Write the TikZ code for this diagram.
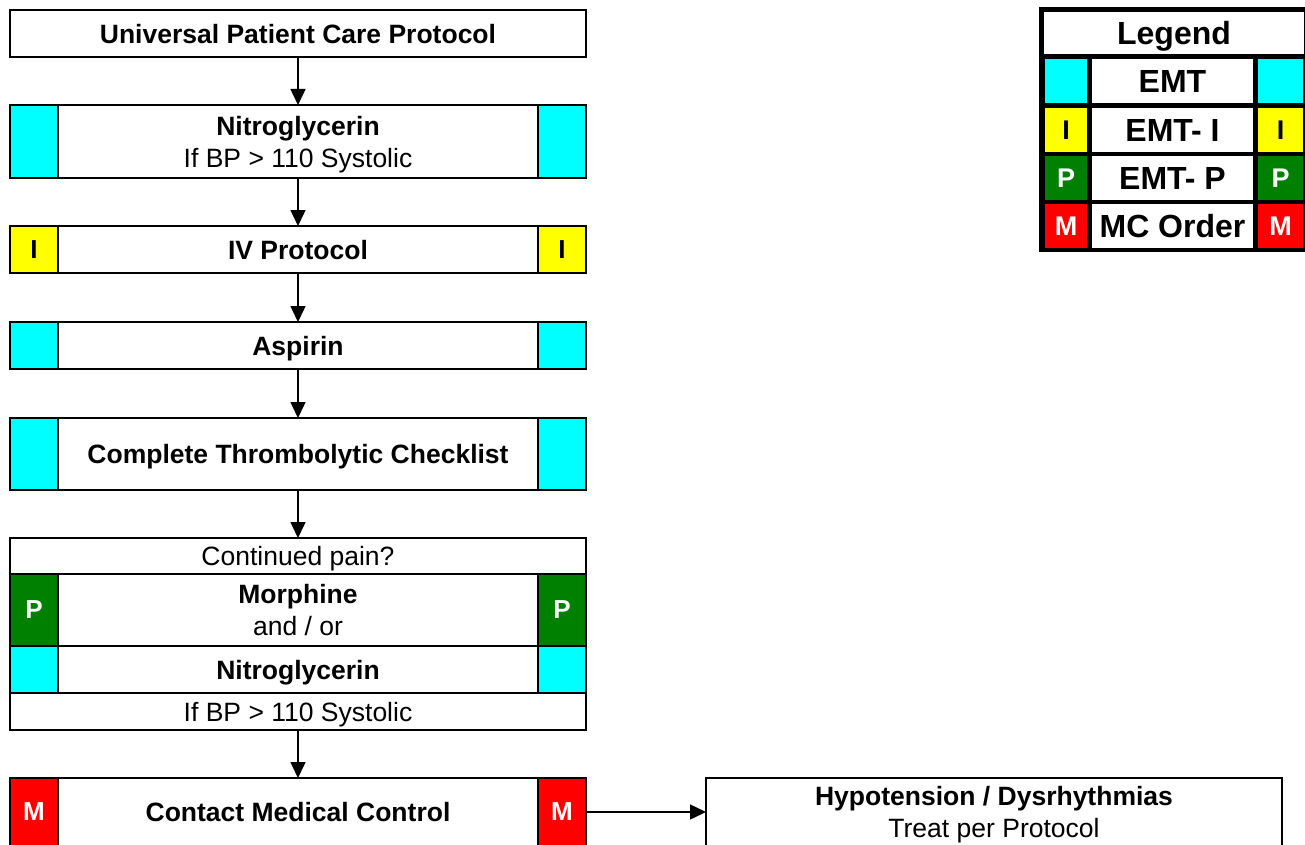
\documentclass[tikz,border=0pt]{standalone}
\usepackage{fontspec}
\setmainfont{Liberation Sans}
\usetikzlibrary{positioning,arrows.meta}

\definecolor{emtcyan}{RGB}{0,255,255}
\definecolor{emtyellow}{RGB}{255,255,0}
\definecolor{emtgreen}{RGB}{0,128,0}
\definecolor{emtred}{RGB}{255,0,0}

\begin{document}
\begin{tikzpicture}[x=1pt,y=-1pt,
  stepbox/.style={draw,line width=2pt,fill=white,outer sep=0pt,inner sep=0pt,text depth=0pt,
    minimum width=576pt,align=center,font=\fontsize{26.5}{32}\selectfont},
  tagbox/.style={draw,line width=2pt,outer sep=0pt,inner sep=0pt,
    minimum width=48pt,font=\fontsize{26}{26}\selectfont\bfseries},
  legcell/.style={inner sep=0pt,outer sep=0pt,minimum height=44pt,text depth=0pt,
    anchor=north west,font=\fontsize{32}{32}\selectfont\bfseries},
  legtag/.style={legcell,font=\fontsize{27}{27}\selectfont\bfseries},
  flow/.style={line width=1.5pt,-{Triangle[length=16pt,width=15pt]}}]
\useasboundingbox (0,0) rectangle (1305,845);

% main column
\node[stepbox,minimum height=47pt] (upc) at (298,33.5)
  {\textbf{Universal Patient Care Protocol}};

\node[stepbox,minimum height=73pt,below=48pt of upc] (nitro)
  {\textbf{Nitroglycerin}\\If BP > 110 Systolic};
\node[tagbox,fill=emtcyan,minimum height=73pt,anchor=north west] (nitroL) at (nitro.north west) {};
\node[tagbox,fill=emtcyan,minimum height=73pt,anchor=north east] (nitroR) at (nitro.north east) {};

\node[stepbox,minimum height=47pt,below=48pt of nitro] (ivp)
  {\textbf{IV Protocol}};
\node[tagbox,fill=emtyellow,minimum height=47pt,anchor=north west] (ivpL) at (ivp.north west) {I};
\node[tagbox,fill=emtyellow,minimum height=47pt,anchor=north east] (ivpR) at (ivp.north east) {I};

\node[stepbox,minimum height=47pt,below=49pt of ivp] (asa)
  {\textbf{Aspirin}};
\node[tagbox,fill=emtcyan,minimum height=47pt,anchor=north west] (asaL) at (asa.north west) {};
\node[tagbox,fill=emtcyan,minimum height=47pt,anchor=north east] (asaR) at (asa.north east) {};

\node[stepbox,minimum height=72pt,below=49pt of asa] (chk)
  {\textbf{Complete Thrombolytic Checklist}};
\node[tagbox,fill=emtcyan,minimum height=72pt,anchor=north west] (chkL) at (chk.north west) {};
\node[tagbox,fill=emtcyan,minimum height=72pt,anchor=north east] (chkR) at (chk.north east) {};

% continued pain block
\node[stepbox,minimum height=36pt,below=48pt of chk] (pain) {Continued pain?};
\node[stepbox,minimum height=72pt,below=0pt of pain] (morph)
  {\textbf{Morphine}\\and / or};
\node[tagbox,fill=emtgreen,text=white,minimum height=72pt,anchor=north west] (morphL) at (morph.north west) {P};
\node[tagbox,fill=emtgreen,text=white,minimum height=72pt,anchor=north east] (morphR) at (morph.north east) {P};
\node[stepbox,minimum height=47pt,below=0pt of morph] (nitrob)
  {\textbf{Nitroglycerin}};
\node[tagbox,fill=emtcyan,minimum height=47pt,anchor=north west] (nitrobL) at (nitrob.north west) {};
\node[tagbox,fill=emtcyan,minimum height=47pt,anchor=north east] (nitrobR) at (nitrob.north east) {};
\node[stepbox,minimum height=37pt,below=0pt of nitrob] (bp) {If BP > 110 Systolic};

\node[stepbox,minimum height=68pt,below=48pt of bp] (mc)
  {\textbf{Contact Medical Control}};
\node[tagbox,fill=emtred,text=white,minimum height=68pt,anchor=north west] (mcL) at (mc.north west) {M};
\node[tagbox,fill=emtred,text=white,minimum height=68pt,anchor=north east] (mcR) at (mc.north east) {M};

\node[stepbox,minimum height=68pt,right=120pt of mc] (hypo)
  {\textbf{Hypotension / Dysrhythmias}\\Treat per Protocol};

\draw[flow] (upc.south) -- (nitro.north);
\draw[flow] (nitro.south) -- (ivp.north);
\draw[flow] (ivp.south) -- (asa.north);
\draw[flow] (asa.south) -- (chk.north);
\draw[flow] (chk.south) -- (pain.north);
\draw[flow] (bp.south) -- (mc.north);
\draw[flow] (mcR.east) -- (hypo.west);

% legend
\node[fill=black,inner sep=0pt,outer sep=0pt,minimum width=272pt,minimum height=245pt,
  anchor=north west] (legend) at (1039,7) {};
\node[legcell,fill=white,minimum width=260pt,minimum height=42pt] (legtitle) at (1044,12) {Legend};

\node[legtag,fill=emtcyan,minimum width=42pt] (emtL) at (1045,59) {};
\node[legcell,fill=white,minimum width=161pt] (emt) at (1092,59) {EMT};
\node[legtag,fill=emtcyan,minimum width=45pt] (emtR) at (1258,59) {};

\node[legtag,fill=emtyellow,minimum width=42pt] (emtiL) at (1045,108) {I};
\node[legcell,fill=white,minimum width=161pt] (emti) at (1092,108) {EMT- I};
\node[legtag,fill=emtyellow,minimum width=45pt] (emtiR) at (1258,108) {I};

\node[legtag,fill=emtgreen,text=white,minimum width=42pt] (emtpL) at (1045,156) {P};
\node[legcell,fill=white,minimum width=161pt] (emtp) at (1092,156) {EMT- P};
\node[legtag,fill=emtgreen,text=white,minimum width=45pt] (emtpR) at (1258,156) {P};

\node[legtag,fill=emtred,text=white,minimum width=42pt] (mcoL) at (1045,204) {M};
\node[legcell,fill=white,minimum width=161pt] (mco) at (1092,204) {MC Order};
\node[legtag,fill=emtred,text=white,minimum width=45pt] (mcoR) at (1258,204) {M};
\end{tikzpicture}
\end{document}
